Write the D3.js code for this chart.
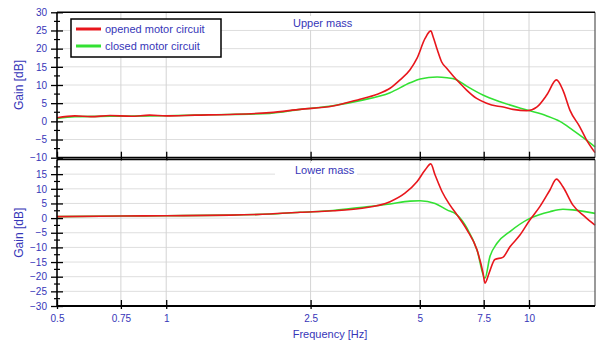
<!DOCTYPE html>
<html>
<head>
<meta charset="utf-8">
<script src="https://cdn.jsdelivr.net/npm/d3@7"></script>
<style>
  body { margin: 0; background: #fff; }
  svg { font-family: "Liberation Sans", Arial, sans-serif; }
</style>
</head>
<body>
<div id="chart"></div>
<script>
// frequencies [Hz] and gains [dB]
var upperOpenF = [0.5, 0.56, 0.62, 0.7, 0.8, 0.9, 1, 1.2, 1.5, 1.93, 2.34, 2.88, 3.42, 3.8, 4.14, 4.41, 4.7, 4.91, 5.17, 5.36, 5.44, 5.59, 5.74, 5.93, 6.18, 6.45, 6.73, 7.17, 7.64, 8.14, 8.49, 9.03, 9.87, 10.5, 11.2, 11.9, 12.4, 12.96, 13.8, 14.4, 15.2];
var upperOpenG = [1.0, 1.5, 1.3, 1.6, 1.4, 1.7, 1.5, 1.7, 1.9, 2.4, 3.3, 4.2, 6.1, 7.4, 9.1, 11.4, 14.2, 17.3, 22.8, 24.9, 23.3, 19.6, 16.4, 14.6, 12.5, 10.5, 8.6, 6.3, 5.0, 4.2, 3.95, 3.3, 2.9, 3.9, 7.3, 11.4, 8.6, 3.1, -1.5, -5.1, -8.6];
var upperClosedF = [0.5, 0.56, 0.7, 1, 1.3, 1.93, 2.34, 2.88, 3.42, 4.14, 4.7, 5.01, 5.58, 5.94, 6.26, 6.73, 7.46, 8.32, 9.87, 11.2, 12.16, 13.2, 14.07, 15.2];
var upperClosedG = [0.8, 1.3, 1.4, 1.55, 1.8, 2.2, 3.3, 4.3, 5.7, 7.9, 10.6, 11.65, 12.2, 12.0, 11.6, 9.7, 7.25, 5.4, 3.1, 1.5, 0.0, -2.4, -4.4, -7.0];

var lowerOpenF = [0.5, 0.75, 1, 1.5, 1.93, 2.34, 2.88, 3.42, 4.14, 4.55, 4.91, 5.17, 5.36, 5.51, 5.76, 6.05, 6.33, 6.75, 7.19, 7.47, 7.56, 7.76, 8.05, 8.47, 8.86, 9.44, 10.05, 10.71, 11.42, 11.9, 12.4, 13.2, 14.25, 15.2];
var lowerOpenG = [0.5, 0.7, 0.8, 1.0, 1.4, 2.0, 2.5, 3.3, 5.6, 8.5, 12.4, 16.4, 18.5, 14.7, 9.0, 4.5, 1.1, -4.1, -10.9, -18.8, -22.2, -18.8, -14.1, -13.4, -9.8, -5.8, -0.65, 3.9, 9.6, 13.3, 10.7, 4.5, 0.5, -2.4];
var lowerClosedF = [0.5, 0.75, 1, 1.5, 1.93, 2.34, 2.88, 3.42, 4.14, 4.7, 5.01, 5.51, 5.94, 6.33, 6.75, 7.19, 7.56, 7.8, 8.16, 8.86, 10.05, 11.42, 12.4, 13.2, 15.2];
var lowerClosedG = [0.5, 0.7, 0.8, 1.0, 1.4, 2.0, 2.6, 3.6, 4.8, 5.8, 5.9, 5.0, 2.8, 1.1, -3.5, -10.9, -20.5, -13.2, -8.6, -4.6, -0.1, 2.2, 3.0, 2.8, 1.6];

var xTicks = [0.5, 0.75, 1, 2.5, 5, 7.5, 10];
var upperTicks = [-10, -5, 0, 5, 10, 15, 20, 25, 30];
var lowerTicks = [-30, -25, -20, -15, -10, -5, 0, 5, 10, 15];

var seriesNames = ["opened motor circuit", "closed motor circuit"];
var colors = ["#e8161c", "#33e133"];
var blue = "#3636b8";

const width = 598, height = 343;
const left = 57, right = 595;

var svg = d3.select("#chart").append("svg")
  .attr("width", width)
  .attr("height", height);

var x = d3.scaleLog().domain([0.5, 15.2]).range([left, right]);

// one panel of the plot
function makePanel(y, ticks, minor, openF, openG, closedF, closedG, title, titleBox) {
  var top = y.range()[1], bottom = y.range()[0];
  var g = svg.append("g");

  // grid
  g.selectAll("line.hgrid")
    .data(ticks.filter(function(d) { return y(d) > top + 1 && y(d) < bottom - 1; }))
    .enter().append("line")
    .attr("class", "hgrid")
    .attr("x1", left).attr("x2", right)
    .attr("y1", function(d) { return y(d); })
    .attr("y2", function(d) { return y(d); })
    .attr("stroke", "#dedede");

  g.selectAll("line.vgrid")
    .data(xTicks.slice(1))
    .enter().append("line")
    .attr("class", "vgrid")
    .attr("x1", function(d) { return x(d); })
    .attr("x2", function(d) { return x(d); })
    .attr("y1", top).attr("y2", bottom)
    .attr("stroke", "#d4d4d4");

  // white box behind the panel title
  g.append("rect")
    .attr("x", titleBox[0]).attr("y", titleBox[1])
    .attr("width", titleBox[2]).attr("height", titleBox[3])
    .attr("fill", "#fff");
  g.append("text")
    .attr("x", titleBox[0] + 20).attr("y", titleBox[1] + titleBox[3] - 3)
    .attr("fill", blue)
    .attr("font-size", "11px")
    .text(title);

  // curves
  var line = d3.line()
    .x(function(d) { return x(d[0]); })
    .y(function(d) { return y(d[1]); })
    .curve(d3.curveMonotoneX);

  g.append("path")
    .datum(closedF.map(function(f, i) { return [f, closedG[i]]; }))
    .attr("d", line)
    .attr("fill", "none")
    .attr("stroke", colors[1])
    .attr("stroke-width", 1.6);

  g.append("path")
    .datum(openF.map(function(f, i) { return [f, openG[i]]; }))
    .attr("d", line)
    .attr("fill", "none")
    .attr("stroke", colors[0])
    .attr("stroke-width", 1.6);

  // right border
  g.append("line")
    .attr("x1", right).attr("x2", right)
    .attr("y1", top).attr("y2", bottom)
    .attr("stroke", "#555").attr("stroke-width", 1.2);

  // y axis, ticks crossing the axis line
  var yAxis = g.append("g")
    .attr("transform", "translate(" + left + ",0)")
    .call(d3.axisLeft(y).tickValues(ticks).tickSize(6).tickPadding(4).tickFormat(d3.format("d")));
  yAxis.select(".domain").remove();
  yAxis.selectAll(".tick line").attr("x1", 6).attr("stroke", "#000").attr("stroke-width", 1.3);
  yAxis.selectAll(".tick text").attr("fill", blue).attr("font-size", "10px")
    .style("font-family", "Liberation Sans, Arial, sans-serif");

  g.selectAll("line.minor")
    .data(minor)
    .enter().append("line")
    .attr("class", "minor")
    .attr("x1", left - 3).attr("x2", left + 3)
    .attr("y1", function(d) { return y(d); })
    .attr("y2", function(d) { return y(d); })
    .attr("stroke", "#000").attr("stroke-width", 1.2);

  g.append("line")
    .attr("x1", left).attr("x2", left)
    .attr("y1", top).attr("y2", bottom)
    .attr("stroke", "#000").attr("stroke-width", 1.6);

  // top and bottom lines
  g.append("line")
    .attr("x1", left).attr("x2", right)
    .attr("y1", top).attr("y2", top)
    .attr("stroke", "#000").attr("stroke-width", 1.4);

  var xAxis = g.append("g")
    .attr("transform", "translate(0," + bottom + ")")
    .call(d3.axisBottom(x).tickValues(xTicks).tickSize(3).tickPadding(6).tickFormat(function(d) { return d; }));
  xAxis.select(".domain").remove();
  xAxis.selectAll(".tick line").attr("y1", -6).attr("stroke", "#000").attr("stroke-width", 1.3);
  xAxis.selectAll(".tick text").attr("fill", blue).attr("font-size", "10px")
    .style("font-family", "Liberation Sans, Arial, sans-serif");
  g.append("line")
    .attr("x1", left).attr("x2", right)
    .attr("y1", bottom).attr("y2", bottom)
    .attr("stroke", "#000").attr("stroke-width", 1.8);

  // axis title
  g.append("text")
    .attr("transform", "translate(23," + ((top + bottom) / 2) + ") rotate(-90)")
    .attr("text-anchor", "middle")
    .attr("fill", blue)
    .attr("font-size", "12px")
    .text("Gain [dB]");

  return xAxis;
}

var yUpper = d3.scaleLinear().domain([-10, 30]).range([157.7, 12.3]);
var yLower = d3.scaleLinear().domain([-30, 20]).range([306, 159.5]);

var upperMinor = d3.range(-7.5, 30, 5);
var lowerMinor = d3.range(-27.5, 20, 5);

var upAxis = makePanel(yUpper, upperTicks, upperMinor, upperOpenF, upperOpenG, upperClosedF, upperClosedG,
  "Upper mass", [273, 16, 84, 14]);
upAxis.selectAll(".tick text").remove();
makePanel(yLower, lowerTicks, lowerMinor, lowerOpenF, lowerOpenG, lowerClosedF, lowerClosedG,
  "Lower mass", [275, 163, 82, 14]);

// x axis title
svg.append("text")
  .attr("x", 330).attr("y", 338)
  .attr("text-anchor", "middle")
  .attr("fill", blue)
  .attr("font-size", "11px")
  .text("Frequency [Hz]");

// legend
var legend = svg.append("g").attr("transform", "translate(71,19)");
legend.append("rect")
  .attr("width", 150).attr("height", 38)
  .attr("fill", "#fff")
  .attr("stroke", "#000").attr("stroke-width", 1.5);

legend.selectAll("line.key")
  .data(seriesNames)
  .enter().append("line")
  .attr("class", "key")
  .attr("x1", 5).attr("x2", 30)
  .attr("y1", function(d, i) { return 10 + i * 17; })
  .attr("y2", function(d, i) { return 10 + i * 17; })
  .attr("stroke", function(d, i) { return colors[i]; })
  .attr("stroke-width", 3);

legend.selectAll("text.key")
  .data(seriesNames)
  .enter().append("text")
  .attr("class", "key")
  .attr("x", 34)
  .attr("y", function(d, i) { return 14 + i * 17; })
  .attr("fill", blue)
  .attr("font-size", "11px")
  .text(function(d) { return d; });
</script>
</body>
</html>
